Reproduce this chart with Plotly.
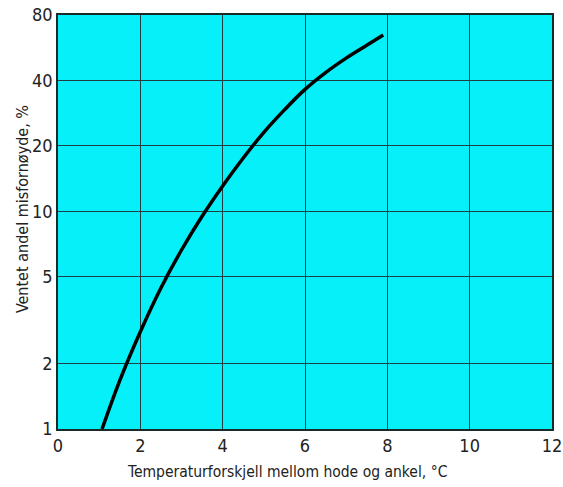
import plotly.graph_objects as go

# Curve readings (temperature difference °C, expected share dissatisfied %)
temp_diff = [1.07, 1.5, 2.0, 2.5, 3.0, 3.5, 4.0, 4.5, 5.0, 5.5, 6.0, 6.5, 7.0, 7.5, 7.9]
dissatisfied = [1.0, 1.67, 2.8, 4.45, 6.65, 9.5, 13.1, 17.6, 23.1, 29.3, 36.4, 43.5, 50.7, 58.1, 64.8]

x_ticks = [0, 2, 4, 6, 8, 10, 12]
y_ticks = [1, 2, 5, 10, 20, 40, 80]

x_title = "Temperaturforskjell mellom hode og ankel, °C"
y_title = "Ventet andel misfornøyde, %"

FONT = "DejaVu Sans Condensed, Liberation Sans Narrow, sans-serif"

fig = go.Figure()
fig.add_trace(go.Scatter(
    x=temp_diff, y=dissatisfied, mode="lines",
    line=dict(color="black", width=3.5, shape="spline", smoothing=1.0),
    showlegend=False, hoverinfo="skip",
))

axis_common = dict(
    showline=True, linecolor="#1a2a2a", linewidth=1.5, mirror=True,
    showgrid=True, gridcolor="#1f3f44", gridwidth=1,
    ticks="", zeroline=False, automargin=False,
    tickfont=dict(family=FONT, size=18, color="#222"),
)

fig.update_xaxes(range=[0, 12], tickvals=x_ticks,
                 ticktext=[str(v) for v in x_ticks], **axis_common)
fig.update_yaxes(type="log", range=[0, 1.90309], tickvals=y_ticks,
                 ticktext=[str(v) for v in y_ticks], **axis_common)

fig.add_annotation(text=x_title, xref="paper", yref="paper",
                   x=0.4636, y=-0.104, showarrow=False,
                   xanchor="center", yanchor="middle",
                   font=dict(family=FONT, size=15.5, color="#222"))
fig.add_annotation(text=y_title, xref="paper", yref="paper",
                   x=-0.073, y=0.531, showarrow=False, textangle=-90,
                   xanchor="center", yanchor="middle",
                   font=dict(family=FONT, size=16, color="#222"))

fig.update_layout(
    width=563, height=487,
    margin=dict(l=58, r=11, t=15, b=58),
    plot_bgcolor="#05F0F8", paper_bgcolor="white",
)

fig.write_html("out.html", config={"displayModeBar": False},
               post_script="document.body.style.margin='0';")
